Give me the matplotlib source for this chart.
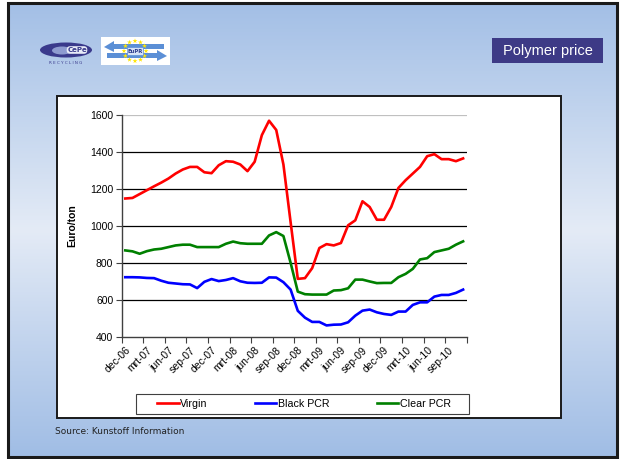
import numpy as np
import matplotlib
matplotlib.use("Agg")
import matplotlib.pyplot as plt
from matplotlib.patches import Rectangle, Ellipse, Polygon, FancyBboxPatch

# ---------------- data ----------------
tick_labels = ["dec-06", "mrt-07", "jun-07", "sep-07", "dec-07", "mrt-08", "jun-08", "sep-08",
               "dec-08", "mrt-09", "jun-09", "sep-09", "dec-09", "mrt-10", "jun-10", "sep-10"]

virgin = [1148, 1151, 1172, 1193, 1214, 1234, 1256, 1283, 1305, 1319, 1319, 1290,
          1285, 1328, 1350, 1347, 1332, 1296, 1347, 1491, 1569, 1519, 1332, 1020,
          713, 717, 771, 880, 901, 894, 907, 1003, 1030, 1133, 1102, 1033,
          1033, 1102, 1205, 1247, 1283, 1319, 1377, 1388, 1361, 1361, 1350, 1365]

black_pcr = [722, 722, 721, 718, 717, 703, 692, 688, 684, 683, 663, 697,
             712, 701, 707, 717, 700, 692, 691, 692, 721, 720, 695, 655,
             540, 503, 480, 480, 461, 465, 466, 478, 514, 541, 547, 532,
             523, 518, 536, 536, 572, 586, 586, 617, 626, 626, 637, 655]

clear_pcr = [867, 862, 849, 863, 872, 876, 885, 894, 898, 898, 885, 885,
             885, 885, 903, 915, 906, 903, 903, 903, 948, 966, 945, 800,
             644, 630, 628, 628, 628, 650, 652, 662, 709, 709, 699, 690,
             691, 691, 722, 740, 767, 818, 825, 858, 867, 876, 898, 916]

series_names = ["Virgin", "Black PCR", "Clear PCR"]
series_colors = ["#FF0000", "#0000FF", "#008000"]

y_ticks = [400, 600, 800, 1000, 1200, 1400, 1600]

W, H = 621, 459
fig = plt.figure(figsize=(W / 100, H / 100), dpi=100)
fig.patch.set_facecolor("white")

# ---------------- background slide ----------------
bg = fig.add_axes([0, 0, 1, 1], zorder=0)
bg.set_xlim(0, W)
bg.set_ylim(H, 0)
bg.axis("off")

stops_y = np.array([0.0, 0.25, 0.5, 0.7, 1.0])
stops_c = np.array([[163, 191, 230], [195, 213, 238], [228, 235, 246], [200, 216, 239], [160, 189, 229]]) / 255.0
yy = np.linspace(0, 1, 300)
grad = np.stack([np.interp(yy, stops_y, stops_c[:, k]) for k in range(3)], axis=-1)
grad = np.repeat(grad[:, None, :], 2, axis=1)
bg.imshow(grad, extent=(8, 617, 457, 3), aspect="auto", zorder=0)
bg.add_patch(Rectangle((8, 3), 609, 454, fill=False, edgecolor="#1a1a1a", lw=2.2, zorder=1))

# title box
bg.add_patch(Rectangle((492, 38), 111, 25, facecolor="#3D3A86", edgecolor="none", zorder=2))
bg.text(547.5, 50.5, "Polymer price", color="white", fontsize=10.5, family="Liberation Sans",
        ha="center", va="center", zorder=3)

# CePe logo
bg.add_patch(Ellipse((66, 50), 52, 15, facecolor="#3A3A8C", edgecolor="none", zorder=2))
bg.add_patch(Ellipse((62, 50.5), 20, 8, facecolor="#8E9BD0", edgecolor="none", zorder=2))
bg.add_patch(FancyBboxPatch((67, 46.5), 20, 7, boxstyle="round,pad=0.3,rounding_size=3.5",
                            facecolor="#E8ECF8", edgecolor="none", zorder=3))
bg.text(77, 50.3, "CePe", color="#3A3A8C", fontsize=5, fontweight="bold", ha="center", va="center", zorder=4)
bg.text(66, 63.5, "R E C Y C L I N G", color="#3A3A8C", fontsize=3, ha="center", va="center", zorder=3)

# EuPR logo
bg.add_patch(Rectangle((101, 37), 69, 28, facecolor="white", edgecolor="none", zorder=2))
bg.add_patch(Polygon([[104, 47], [114, 41], [114, 44], [164, 44], [164, 49], [114, 49], [114, 52]],
                     closed=True, facecolor="#5B8FD6", edgecolor="none", zorder=3))
bg.add_patch(Polygon([[167, 56], [157, 50], [157, 53], [107, 53], [107, 58], [157, 58], [157, 61]],
                     closed=True, facecolor="#5B8FD6", edgecolor="none", zorder=3))
ang = np.linspace(0, 2 * np.pi, 13)[:-1]
bg.scatter(135 + 11 * np.cos(ang), 51 + 10 * np.sin(ang), marker="*", s=14, color="#FFE600",
           edgecolors="none", zorder=4)
bg.add_patch(Rectangle((127, 47), 16, 8, facecolor="#D5E3F7", edgecolor="#5B8FD6", lw=0.5, zorder=5))
bg.text(135, 51.2, "EuPR", color="#2A3A8C", fontsize=3.8, fontweight="bold", ha="center", va="center", zorder=6)

# chart area
bg.add_patch(Rectangle((57, 96), 504, 322, facecolor="white", edgecolor="#1a1a1a", lw=1.4, zorder=2))

# legend box
bg.add_patch(Rectangle((136, 394), 333, 20, facecolor="white", edgecolor="#404040", lw=0.8, zorder=3))

# source
bg.text(55, 432, "Source: Kunstoff Information", fontsize=6.5, family="DejaVu Sans", color="#222222",
        ha="left", va="center", zorder=3)

# ---------------- main plot ----------------
ax = fig.add_axes([121.7 / W, 1 - 336.7 / H, 345 / W, 221.7 / H], zorder=2)
ax.patch.set_alpha(0)
n = len(virgin)
x = np.arange(n)
ax.set_xlim(-0.5, n - 0.5)
ax.set_ylim(400, 1600)

for yv in y_ticks[1:-1]:
    ax.axhline(yv, color="black", lw=0.9, zorder=1)
ax.axhline(1600, color="#C0C0C0", lw=0.9, zorder=1)

for vals, name, col in zip([virgin, black_pcr, clear_pcr], series_names, series_colors):
    ax.plot(x, vals, color=col, lw=1.9, label=name, zorder=3, solid_joinstyle="round")

for s in ["top", "right"]:
    ax.spines[s].set_visible(False)
for s in ["left", "bottom"]:
    ax.spines[s].set_color("#404040")
    ax.spines[s].set_linewidth(1.0)

ax.set_yticks(y_ticks)
ax.set_yticklabels([str(v) for v in y_ticks], fontsize=7.5, family="Liberation Sans")
ax.tick_params(axis="y", direction="out", length=4, width=0.8, color="#404040", pad=2)

ax.set_xticks(np.arange(-0.5, n, 3))
ax.set_xticklabels([])
ax.tick_params(axis="x", direction="out", length=4, width=0.8, color="#404040")
ax.set_xticks(np.arange(0, n, 3), minor=True)
ax.set_xticklabels(tick_labels, minor=True, rotation=45, ha="right", va="top",
                   rotation_mode="anchor", fontsize=7.5, family="Liberation Sans")
ax.tick_params(axis="x", which="minor", length=0, pad=6)

ax.set_ylabel("Euro/ton", fontsize=7.5, fontweight="bold", family="Liberation Sans", labelpad=9)

leg = fig.legend(loc="center", bbox_to_anchor=(304 / W, 1 - 404 / H), ncol=3, frameon=False,
                 handlelength=2.0, handletextpad=0.15, columnspacing=4.4, borderpad=0.2,
                 prop={"family": "Liberation Sans", "size": 7.7})
leg.set_zorder(5)

fig.savefig("out.png", dpi=100, facecolor="white")
